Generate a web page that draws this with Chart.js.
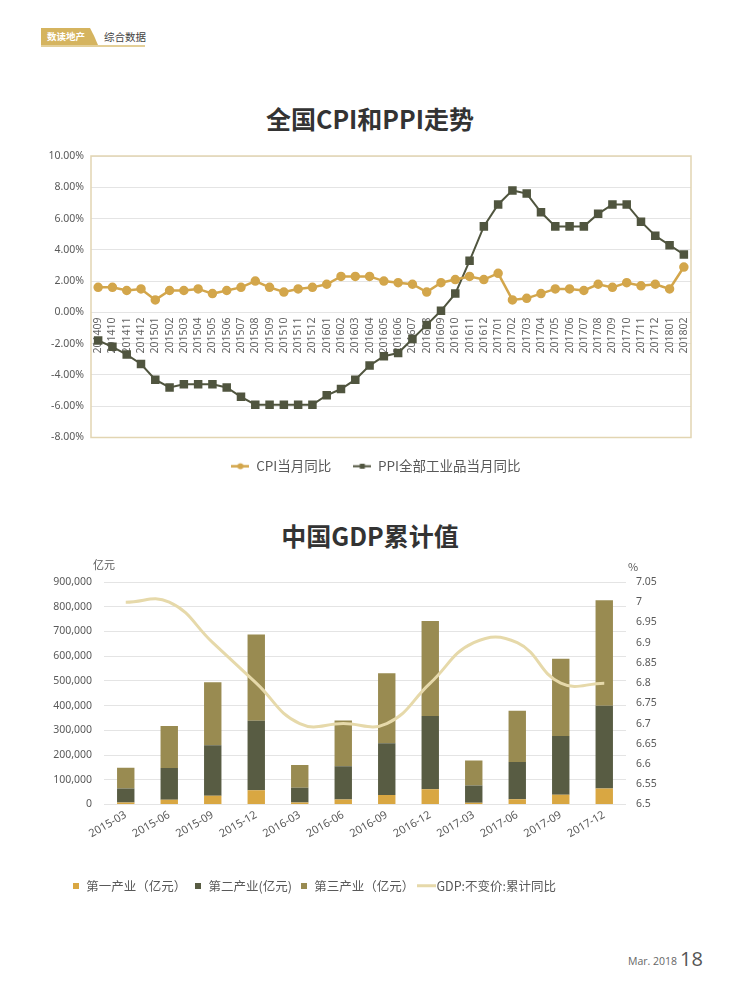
<!DOCTYPE html>
<html lang="zh">
<head>
<meta charset="utf-8">
<title>全国CPI和PPI走势 / 中国GDP累计值</title>
<script src="https://cdn.jsdelivr.net/npm/chart.js@4.4.1/dist/chart.umd.min.js"></script>
<style>
  html, body { margin: 0; padding: 0; background: #fff; }
  body {
    width: 740px; height: 1004px; position: relative; overflow: hidden;
    font-family: 'Noto Sans CJK SC', 'Noto Sans', sans-serif;
  }
  .tab {
    position: absolute; left: 41px; top: 28px; width: 57px; height: 17px;
    background: #d5b45f; color: #fff; font-size: 9.5px; font-weight: 700;
    line-height: 17px; padding-left: 6px; box-sizing: border-box;
    clip-path: polygon(0 0, 86% 0, 93% 45%, 100% 100%, 0 100%);
  }
  .section { position: absolute; left: 104px; top: 28px; font-size: 10.5px; line-height: 17px; color: #444; }
  .rule { position: absolute; left: 41px; top: 45px; width: 104px; height: 1.5px; background: #e3cf98; }
  .title {
    position: absolute; left: 0; width: 740px; text-align: center;
    font-size: 25px; font-weight: 700; line-height: 30px; color: #333;
  }
  canvas { position: absolute; left: 0; }
  .unit { position: absolute; font-size: 11px; color: #595959; line-height: 14px; }
  .footer-month { position: absolute; left: 628px; top: 954px; font-size: 10.5px; color: #666; font-family: 'Open Sans', sans-serif; }
  .footer-page { position: absolute; left: 680px; top: 945px; font-size: 20px; color: #555; font-family: 'Open Sans', sans-serif; }
</style>
</head>
<body>
<div class="tab">数读地产</div>
<div class="section">综合数据</div>
<div class="rule"></div>

<div class="title" style="top:103px">全国CPI和PPI走势</div>
<canvas id="cpi-chart" width="740" height="350" style="top:140px"></canvas>

<div class="title" style="top:520px">中国GDP累计值</div>
<canvas id="gdp-chart" width="740" height="345" style="top:560px"></canvas>
<div class="unit" style="left:93px; top:557px">亿元</div>
<div class="unit" style="left:628px; top:559px">%</div>

<div class="footer-month">Mar. 2018</div>
<div class="footer-page">18</div>

<script>
// CPI / PPI year-on-year (%)
const months = [
  '201409', '201410', '201411', '201412',
  '201501', '201502', '201503', '201504', '201505', '201506',
  '201507', '201508', '201509', '201510', '201511', '201512',
  '201601', '201602', '201603', '201604', '201605', '201606',
  '201607', '201608', '201609', '201610', '201611', '201612',
  '201701', '201702', '201703', '201704', '201705', '201706',
  '201707', '201708', '201709', '201710', '201711', '201712',
  '201801', '201802'
];
const cpi = [
  1.6, 1.6, 1.4, 1.5,
  0.8, 1.4, 1.4, 1.5, 1.2, 1.4, 1.6, 2.0, 1.6, 1.3, 1.5, 1.6,
  1.8, 2.3, 2.3, 2.3, 2.0, 1.9, 1.8, 1.3, 1.9, 2.1, 2.3, 2.1,
  2.5, 0.8, 0.9, 1.2, 1.5, 1.5, 1.4, 1.8, 1.6, 1.9, 1.7, 1.8,
  1.5, 2.9
];
const ppi = [
  -1.8, -2.2, -2.7, -3.3,
  -4.3, -4.8, -4.6, -4.6, -4.6, -4.8, -5.4, -5.9, -5.9, -5.9, -5.9, -5.9,
  -5.3, -4.9, -4.3, -3.4, -2.8, -2.6, -1.7, -0.8, 0.1, 1.2, 3.3, 5.5,
  6.9, 7.8, 7.6, 6.4, 5.5, 5.5, 5.5, 6.3, 6.9, 6.9, 5.8, 4.9,
  4.3, 3.7
];

// GDP cumulative by quarter (亿元) and growth (%)
const quarters = [
  '2015-03', '2015-06', '2015-09', '2015-12',
  '2016-03', '2016-06', '2016-09', '2016-12',
  '2017-03', '2017-06', '2017-09', '2017-12'
];
const primaryIndustry = [8000, 19000, 35000, 58000, 8000, 20000, 38000, 62000, 7000, 21000, 39000, 65000];
const secondaryIndustry = [57000, 129000, 205000, 281000, 60000, 135000, 210000, 296000, 70000, 151000, 238000, 334000];
const tertiaryIndustry = [84000, 170000, 255000, 349000, 92000, 185000, 283000, 384000, 101000, 207000, 313000, 427000];
const gdpGrowth = [7.0, 7.0, 6.9, 6.8, 6.7, 6.7, 6.7, 6.8, 6.9, 6.9, 6.8, 6.8];

const COLORS = {
  cpi: '#d3a64b',
  ppi: '#50553f',
  primary: '#d9a742',
  secondary: '#585c43',
  tertiary: '#998b51',
  gdp: '#e6d9aa',
  grid: '#e4e4e4',
  frame: '#e2d5b2',
  text: '#595959'
};

Chart.defaults.font.family = "'Noto Sans', 'Noto Sans CJK SC', sans-serif";
Chart.defaults.color = COLORS.text;
Chart.defaults.animation = false;

// small canvases used as legend markers
function lineMarker(color, width, lineWidth, dot) {
  const c = document.createElement('canvas');
  c.width = width;
  c.height = 9;
  const g = c.getContext('2d');
  g.strokeStyle = color;
  g.lineWidth = lineWidth;
  g.beginPath();
  g.moveTo(0, 4.5);
  g.lineTo(width, 4.5);
  g.stroke();
  g.fillStyle = color;
  if (dot === 'circle') {
    g.beginPath();
    g.arc(width / 2, 4.5, 3, 0, Math.PI * 2);
    g.fill();
  } else if (dot === 'square') {
    g.fillRect(width / 2 - 2.5, 2, 5, 5);
  }
  return c;
}

function squareMarker(color, size) {
  const c = document.createElement('canvas');
  c.width = size;
  c.height = size;
  const g = c.getContext('2d');
  g.fillStyle = color;
  g.fillRect(0, 0, size, size);
  return c;
}

const plotFrame = {
  id: 'plotFrame',
  beforeDatasetsDraw(chart) {
    const { ctx, chartArea } = chart;
    ctx.save();
    ctx.strokeStyle = COLORS.frame;
    ctx.lineWidth = 1.5;
    ctx.strokeRect(chartArea.left, chartArea.top, chartArea.right - chartArea.left, chartArea.bottom - chartArea.top);
    ctx.restore();
  }
};

// move the legend row so it is centred on a given x, like the original
const legendCenter = {
  id: 'legendCenter',
  afterLayout(chart, args, opts) {
    const lg = chart.legend;
    if (!lg || opts.x == null) return;
    const dx = opts.x - (lg.left + lg.right) / 2;
    lg.left += dx;
    lg.right += dx;
  }
};

const cpiMarkers = [lineMarker(COLORS.cpi, 18, 2.5, 'circle'), lineMarker(COLORS.ppi, 18, 2, 'square')];

new Chart(document.getElementById('cpi-chart'), {
  type: 'line',
  data: {
    labels: months,
    datasets: [
      {
        label: 'CPI当月同比',
        data: cpi,
        borderColor: COLORS.cpi,
        backgroundColor: COLORS.cpi,
        borderWidth: 2.5,
        pointStyle: 'circle',
        pointRadius: 3.5,
        tension: 0
      },
      {
        label: 'PPI全部工业品当月同比',
        data: ppi,
        borderColor: COLORS.ppi,
        backgroundColor: COLORS.ppi,
        borderWidth: 2,
        pointStyle: 'rect',
        pointRadius: 4.6,
        tension: 0
      }
    ]
  },
  options: {
    responsive: false,
    layout: { padding: { left: 0, right: 49, top: 16, bottom: 7 } },
    plugins: {
      tooltip: { enabled: false },
      legendCenter: { x: 376 },
      legend: {
        position: 'bottom',
        labels: {
          usePointStyle: true,
          pointStyleWidth: 18,
          padding: 22,
          color: COLORS.text,
          font: { size: 13.5, family: "'Noto Sans CJK SC', sans-serif" },
          generateLabels: (chart) =>
            Chart.defaults.plugins.legend.labels.generateLabels(chart).map(item => {
              item.pointStyle = cpiMarkers[item.datasetIndex];
              return item;
            })
        }
      }
    },
    scales: {
      x: {
        position: { y: 0 },
        offset: true,
        grid: { display: false, drawTicks: false },
        border: { display: false },
        ticks: {
          autoSkip: false,
          minRotation: 90,
          maxRotation: 90,
          padding: 5,
          color: '#666',
          font: { size: 10.5 }
        }
      },
      y: {
        min: -8,
        max: 10,
        afterFit: (scale) => { scale.width = 91; },
        grid: { color: COLORS.grid, drawTicks: false },
        border: { display: false },
        ticks: {
          stepSize: 2,
          padding: 7,
          font: { size: 10.5 },
          callback: (v) => v.toFixed(2) + '%'
        }
      }
    }
  },
  plugins: [plotFrame, legendCenter]
});

const gdpMarkers = [
  squareMarker(COLORS.primary, 6),
  squareMarker(COLORS.secondary, 6),
  squareMarker(COLORS.tertiary, 6),
  lineMarker(COLORS.gdp, 19, 3)
];

new Chart(document.getElementById('gdp-chart'), {
  type: 'bar',
  data: {
    labels: quarters,
    datasets: [
      { label: '第一产业（亿元）', data: primaryIndustry, backgroundColor: COLORS.primary, stack: 'gdp', order: 1 },
      { label: '第二产业(亿元)', data: secondaryIndustry, backgroundColor: COLORS.secondary, stack: 'gdp', order: 1 },
      { label: '第三产业（亿元）', data: tertiaryIndustry, backgroundColor: COLORS.tertiary, stack: 'gdp', order: 1 },
      {
        type: 'line',
        label: 'GDP:不变价:累计同比',
        data: gdpGrowth,
        yAxisID: 'y1',
        borderColor: COLORS.gdp,
        backgroundColor: COLORS.gdp,
        borderWidth: 3,
        pointRadius: 0,
        tension: 0.45,
        order: 0
      }
    ]
  },
  options: {
    responsive: false,
    layout: { padding: { left: 0, right: 78, top: 22, bottom: 3 } },
    datasets: {
      bar: { barPercentage: 0.4, categoryPercentage: 1.0 }
    },
    plugins: {
      tooltip: { enabled: false },
      legendCenter: { x: 314 },
      legend: {
        position: 'bottom',
        labels: {
          usePointStyle: true,
          pointStyleWidth: 8,
          padding: 8,
          color: COLORS.text,
          font: { size: 12.5, family: "'Noto Sans CJK SC', sans-serif" },
          sort: (a, b) => a.datasetIndex - b.datasetIndex,
          generateLabels: (chart) =>
            Chart.defaults.plugins.legend.labels.generateLabels(chart).map(item => {
              item.pointStyle = gdpMarkers[item.datasetIndex];
              return item;
            })
        }
      }
    },
    scales: {
      x: {
        stacked: true,
        afterFit: (scale) => { scale.height = 67; },
        grid: { display: false, drawTicks: false },
        border: { display: false },
        ticks: {
          autoSkip: false,
          minRotation: 30,
          maxRotation: 30,
          padding: 4,
          font: { size: 11 }
        }
      },
      y: {
        stacked: true,
        min: 0,
        max: 900000,
        afterFit: (scale) => { scale.width = 104; },
        grid: { color: COLORS.grid, drawTicks: false },
        border: { display: false },
        ticks: {
          stepSize: 100000,
          padding: 12,
          font: { size: 10.5 },
          callback: (v) => v.toLocaleString('en-US')
        }
      },
      y1: {
        position: 'right',
        min: 6.5,
        max: 7.05,
        afterFit: (scale) => { scale.width = 36; },
        grid: { display: false, drawTicks: false },
        border: { display: false },
        ticks: {
          stepSize: 0.05,
          padding: 10,
          font: { size: 10.5 },
          callback: (v) => String(Number(v.toFixed(2)))
        }
      }
    }
  },
  plugins: [legendCenter]
});
</script>
</body>
</html>
